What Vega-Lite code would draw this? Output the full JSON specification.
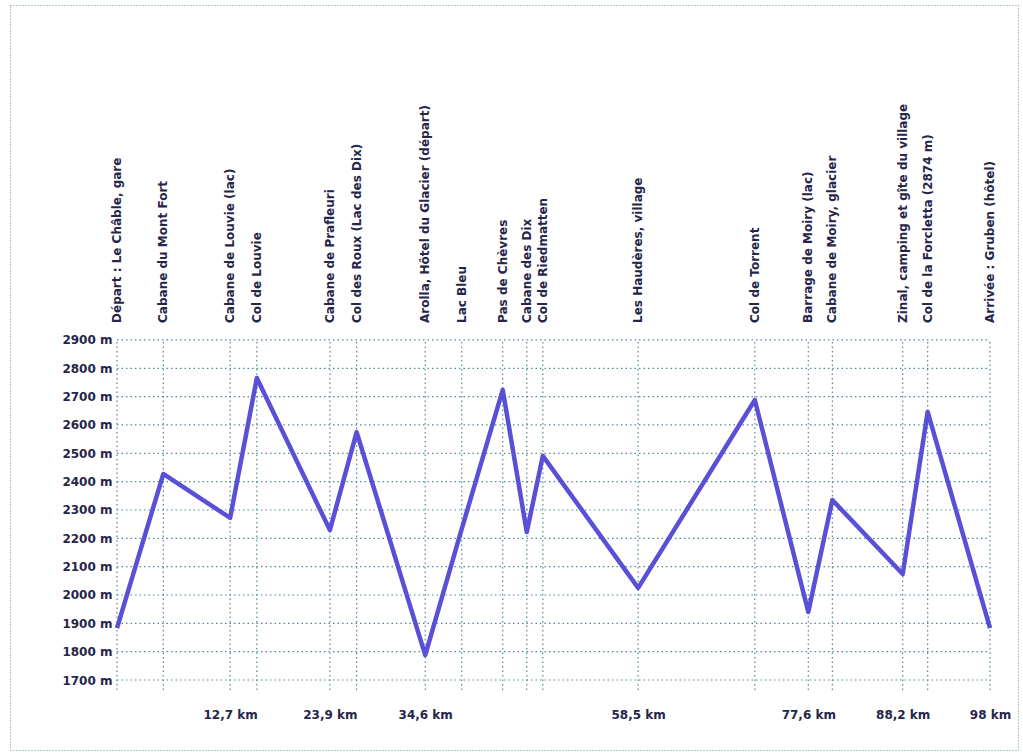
{
  "$schema": "https://vega.github.io/schema/vega-lite/v6.json",
  "autosize": {"type": "none"},
  "width": 1008,
  "height": 745,
  "padding": {"left": 10, "top": 5, "right": 5, "bottom": 6},
  "background": "white",
  "config": {
    "view": {"stroke": "#5f959e", "strokeDash": [1, 2], "strokeWidth": 1},
    "font": "DejaVu Sans",
    "axis": {"labelFont": "DejaVu Sans", "labelFontSize": 12, "labelFontWeight": "bold", "labelColor": "#26264a"}
  },
  "data": {
    "values": [
      {"km": 0, "alt": 1883, "name": "Départ : Le Châble, gare"},
      {"km": 5.2, "alt": 2427, "name": "Cabane du Mont Fort"},
      {"km": 12.7, "alt": 2272, "name": "Cabane de Louvie (lac)"},
      {"km": 15.7, "alt": 2766, "name": "Col de Louvie"},
      {"km": 23.9, "alt": 2229, "name": "Cabane de Prafleuri"},
      {"km": 26.9, "alt": 2575, "name": "Col des Roux (Lac des Dix)"},
      {"km": 34.6, "alt": 1788, "name": "Arolla, Hôtel du Glacier (départ)"},
      {"km": 38.7, "alt": 2233, "name": "Lac Bleu"},
      {"km": 43.3, "alt": 2724, "name": "Pas de Chèvres"},
      {"km": 46.0, "alt": 2222, "name": "Cabane des Dix"},
      {"km": 47.8, "alt": 2491, "name": "Col de Riedmatten"},
      {"km": 58.5, "alt": 2025, "name": "Les Haudères, village"},
      {"km": 71.6, "alt": 2688, "name": "Col de Torrent"},
      {"km": 77.6, "alt": 1940, "name": "Barrage de Moiry (lac)"},
      {"km": 80.3, "alt": 2335, "name": "Cabane de Moiry, glacier"},
      {"km": 88.2, "alt": 2074, "name": "Zinal, camping et gîte du village"},
      {"km": 91.0, "alt": 2646, "name": "Col de la Forcletta (2874 m)"},
      {"km": 98.0, "alt": 1883, "name": "Arrivée : Gruben (hôtel)"}
    ]
  },
  "layer": [
    {
      "data": {
        "values": [
          {"lvl": 1700}, {"lvl": 1800}, {"lvl": 1900}, {"lvl": 2000}, {"lvl": 2100},
          {"lvl": 2200}, {"lvl": 2300}, {"lvl": 2400}, {"lvl": 2500}, {"lvl": 2600},
          {"lvl": 2700}, {"lvl": 2800}, {"lvl": 2900}
        ]
      },
      "mark": {"type": "rule", "color": "#4f8a93", "strokeDash": [1.5, 3], "strokeWidth": 1.2},
      "encoding": {
        "x": {"datum": 0, "type": "quantitative", "scale": {"domain": [-12.01, 101.14], "nice": false, "zero": false}},
        "x2": {"datum": 98},
        "y": {"field": "lvl", "type": "quantitative", "scale": {"domain": [1453, 4082], "nice": false, "zero": false}}
      }
    },
    {
      "mark": {"type": "rule", "color": "#4f8a93", "strokeDash": [1.5, 3], "strokeWidth": 1.2},
      "encoding": {
        "x": {"field": "km", "type": "quantitative", "scale": {"domain": [-12.01, 101.14], "nice": false, "zero": false}},
        "y": {"datum": 1665, "type": "quantitative", "scale": {"domain": [1453, 4082], "nice": false, "zero": false}},
        "y2": {"datum": 2900}
      }
    },
    {
      "mark": {"type": "line", "color": "#5a50d8", "strokeWidth": 4.5, "strokeJoin": "round"},
      "encoding": {
        "x": {
          "field": "km", "type": "quantitative",
          "scale": {"domain": [-12.01, 101.14], "nice": false, "zero": false},
          "axis": {
            "title": null, "domain": false, "ticks": false, "grid": false,
            "values": [12.7, 23.9, 34.6, 58.5, 77.6, 88.2, 98],
            "labelExpr": "datum.value % 1 === 0 ? format(datum.value, 'd') + ' km' : replace(format(datum.value, '.1f'), '.', ',') + ' km'",
            "offset": -45, "labelPadding": 4, "labelOverlap": false
          }
        },
        "y": {
          "field": "alt", "type": "quantitative",
          "scale": {"domain": [1453, 4082], "nice": false, "zero": false},
          "axis": {
            "title": null, "domain": false, "ticks": false, "grid": false,
            "values": [1700, 1800, 1900, 2000, 2100, 2200, 2300, 2400, 2500, 2600, 2700, 2800, 2900],
            "labelExpr": "datum.value + ' m'",
            "offset": -105, "labelPadding": 3, "labelOverlap": false
          }
        }
      }
    },
    {
      "mark": {"type": "text", "angle": 270, "align": "left", "baseline": "middle", "fontSize": 12, "fontWeight": "bold", "color": "#26264a"},
      "encoding": {
        "x": {"field": "km", "type": "quantitative", "scale": {"domain": [-12.01, 101.14], "nice": false, "zero": false}},
        "y": {"datum": 2960, "type": "quantitative", "scale": {"domain": [1453, 4082], "nice": false, "zero": false}},
        "text": {"field": "name"}
      }
    }
  ]
}
